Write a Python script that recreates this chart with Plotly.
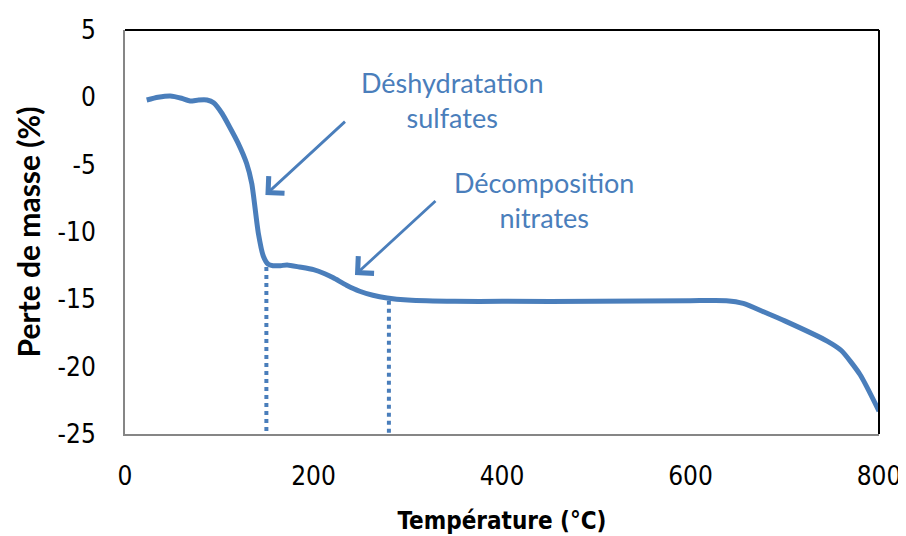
import plotly.graph_objects as go

# Data
temperature = [23, 35, 48, 60, 69, 78, 87, 94, 103, 111, 120, 129, 134.5, 141.5, 146.8, 152,
               157, 165, 172, 185, 200, 212, 221, 235, 249, 263, 278, 300, 350, 400, 500,
               600, 638, 656, 680, 700, 745, 760, 780, 800]
mass_loss = [-0.2, 0.0, 0.1, -0.07, -0.27, -0.2, -0.2, -0.4, -1.2, -2.2, -3.4, -4.9, -6.4, -10.1,
             -11.8, -12.4, -12.5, -12.5, -12.45, -12.6, -12.8, -13.1, -13.4, -13.95, -14.4,
             -14.7, -14.9, -15.05, -15.15, -15.15, -15.15, -15.1, -15.1, -15.3, -16.0, -16.6,
             -18.1, -18.8, -20.6, -23.3]

step_temps = [150, 280]
step_mass = [-12.6, -15.1]

labels = ["Déshydratation<br>sulfates", "Décomposition<br>nitrates"]
label_pos_x = [347, 445]
label_pos_y = [-0.2, -7.6]
arrow_tail_x = [235, 331]
arrow_tail_y = [-1.7, -7.6]
arrow_head_x = [149, 244]
arrow_head_y = [-7.25, -13.2]

x_ticks = [0, 200, 400, 600, 800]
y_ticks = [5, 0, -5, -10, -15, -20, -25]

BLUE = "#4A7EBB"
TICK_FONT = "Liberation Sans Narrow, DejaVu Sans Condensed, sans-serif"
TEXT_FONT = "Lato, Open Sans, sans-serif"

fig = go.Figure()

fig.add_trace(go.Scatter(
    x=temperature, y=mass_loss, mode="lines",
    line=dict(color=BLUE, width=5, shape="spline", smoothing=0.6),
    showlegend=False, hoverinfo="skip"))

for t, m in zip(step_temps, step_mass):
    fig.add_trace(go.Scatter(
        x=[t, t], y=[m, -25], mode="lines",
        line=dict(color=BLUE, width=4, dash="dot"),
        showlegend=False, hoverinfo="skip"))

annotations = []
for i in range(len(labels)):
    annotations.append(dict(
        x=label_pos_x[i], y=label_pos_y[i], xref="x", yref="y", text=labels[i],
        showarrow=False, font=dict(family=TEXT_FONT, size=27, color=BLUE),
        align="center", xanchor="center", yanchor="middle"))
    annotations.append(dict(
        x=arrow_head_x[i], y=arrow_head_y[i], xref="x", yref="y",
        ax=arrow_tail_x[i], ay=arrow_tail_y[i], axref="x", ayref="y",
        text="", showarrow=True, arrowhead=4, arrowsize=1.6, arrowwidth=2.8,
        arrowcolor=BLUE, standoff=0, startstandoff=0))

# page body adds an 8px offset, so the figure is sized to fit the 906x536 window
fig.update_layout(
    width=898, height=528,
    margin=dict(l=117, r=27, t=22, b=102),
    paper_bgcolor="white", plot_bgcolor="white",
    annotations=annotations,
    xaxis=dict(
        range=[0, 800], tickvals=x_ticks, ticktext=[str(v) for v in x_ticks],
        showgrid=False, zeroline=False, showline=True, linecolor="#868686", linewidth=2,
        ticks="", ticklabelstandoff=18, automargin=False,
        tickfont=dict(family=TICK_FONT, size=26, color="black"),
        title=dict(text="<b>Température (°C)</b>", standoff=22,
                   font=dict(family=TICK_FONT, size=24, color="black"))),
    yaxis=dict(
        range=[-25, 5], tickvals=y_ticks, ticktext=[str(v) for v in y_ticks],
        showgrid=False, zeroline=False, showline=True, linecolor="#868686", linewidth=2,
        ticks="", ticklabelstandoff=22, automargin=False,
        tickfont=dict(family=TICK_FONT, size=26, color="black"),
        title=dict(text="<b>Perte de masse (%)</b>", standoff=8,
                   font=dict(family=TEXT_FONT, size=30, color="black"))),
)

# top and right frame lines (black)
fig.add_shape(type="line", xref="x domain", yref="y domain", x0=0, x1=1, y0=1, y1=1,
              line=dict(color="black", width=2))
fig.add_shape(type="line", xref="x domain", yref="y domain", x0=1, x1=1, y0=0, y1=1,
              line=dict(color="black", width=2))

fig.write_html("out.html")
